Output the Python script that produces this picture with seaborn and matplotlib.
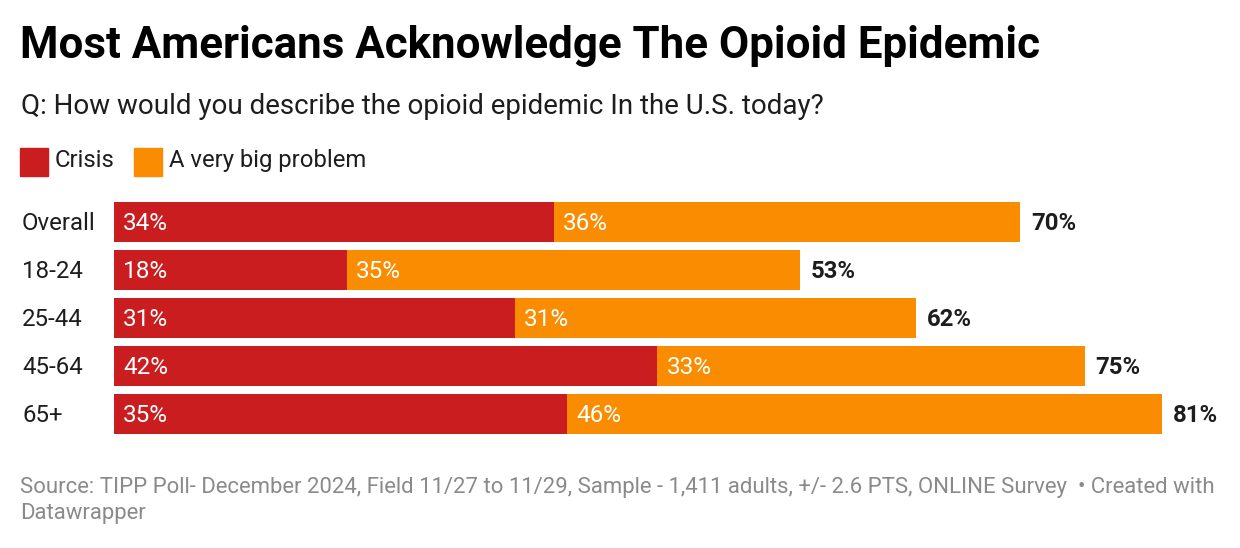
import pandas as pd
import matplotlib.pyplot as plt
import seaborn as sns

categories = ["Overall", "18-24", "25-44", "45-64", "65+"]
crisis = [34, 18, 31, 42, 35]
big_problem = [36, 35, 31, 33, 46]

RED = "#c91d1f"
ORANGE = "#f98c00"

df = pd.DataFrame({"group": categories, "crisis": crisis, "big": big_problem})
df["total"] = df["crisis"] + df["big"]

sns.set_style("white")
plt.rcParams["font.family"] = ["Roboto", "DejaVu Sans"]

fig = plt.figure(figsize=(12.4, 5.48), dpi=100)
ax = fig.add_axes([114 / 1240, 110 / 548, 1126 / 1240, 240 / 548])

# stacked: full total in orange, crisis share on top in red
sns.barplot(data=df, x="total", y="group", color=ORANGE, width=0.833,
            saturation=1, ax=ax, orient="h", linewidth=0)
sns.barplot(data=df, x="crisis", y="group", color=RED, width=0.833,
            saturation=1, ax=ax, orient="h", linewidth=0)

ax.set_xlim(0, 1126 / 12.94)
ax.set_ylim(4.5, -0.5)
ax.set_xlabel("")
ax.set_ylabel("")
ax.set_xticks([])
ax.set_yticks([])
sns.despine(ax=ax, left=True, bottom=True)

px = 1 / 12.94  # data units per pixel
dy = 1.5 / 48   # nudge labels down a touch
for i, row in df.iterrows():
    ax.text(9 * px, i + dy, f"{row['crisis']}%", color="white",
            fontsize=17.5, va="center", ha="left")
    ax.text(row["crisis"] + 9 * px, i + dy, f"{row['big']}%", color="white",
            fontsize=17.5, va="center", ha="left")
    ax.text(row["total"] + 11 * px, i + dy, f"{row['total']}%", color="#1d1d1d",
            fontsize=17.2, fontweight="bold", va="center", ha="left")
    fig.text(22 / 1240, 1 - (223.5 + i * 48) / 548, row["group"], color="#1d1d1d",
             fontsize=17.3, va="center", ha="left")

fig.text(20 / 1240, 1 - 46 / 548, "Most Americans Acknowledge The Opioid Epidemic",
         fontsize=31.6, fontweight="bold", color="#000000", va="center", ha="left")
fig.text(21 / 1240, 1 - 107 / 548, "Q: How would you describe the opioid epidemic In the U.S. today?",
         fontsize=20, color="#1d1d1d", va="center", ha="left")

# legend
fig.patches.append(plt.Rectangle((20 / 1240, 1 - 176 / 548), 28 / 1240, 28 / 548,
                                 transform=fig.transFigure, color=RED))
fig.text(55 / 1240, 1 - 161 / 548, "Crisis", fontsize=17.2, color="#1d1d1d",
         va="center", ha="left")
fig.patches.append(plt.Rectangle((134 / 1240, 1 - 176 / 548), 28 / 1240, 28 / 548,
                                 transform=fig.transFigure, color=ORANGE))
fig.text(169 / 1240, 1 - 161 / 548, "A very big problem", fontsize=17.2, color="#1d1d1d",
         va="center", ha="left")

fig.text(20 / 1240, 1 - 488 / 548,
         "Source: TIPP Poll- December 2024, Field 11/27 to 11/29, Sample - 1,411 adults, +/- 2.6 PTS, ONLINE Survey  \u2022 Created with",
         fontsize=15.9, color="#8a8a8a", va="center", ha="left")
fig.text(20 / 1240, 1 - 513 / 548, "Datawrapper",
         fontsize=15.9, color="#8a8a8a", va="center", ha="left")

fig.savefig("out.png", dpi=100, facecolor="white")
